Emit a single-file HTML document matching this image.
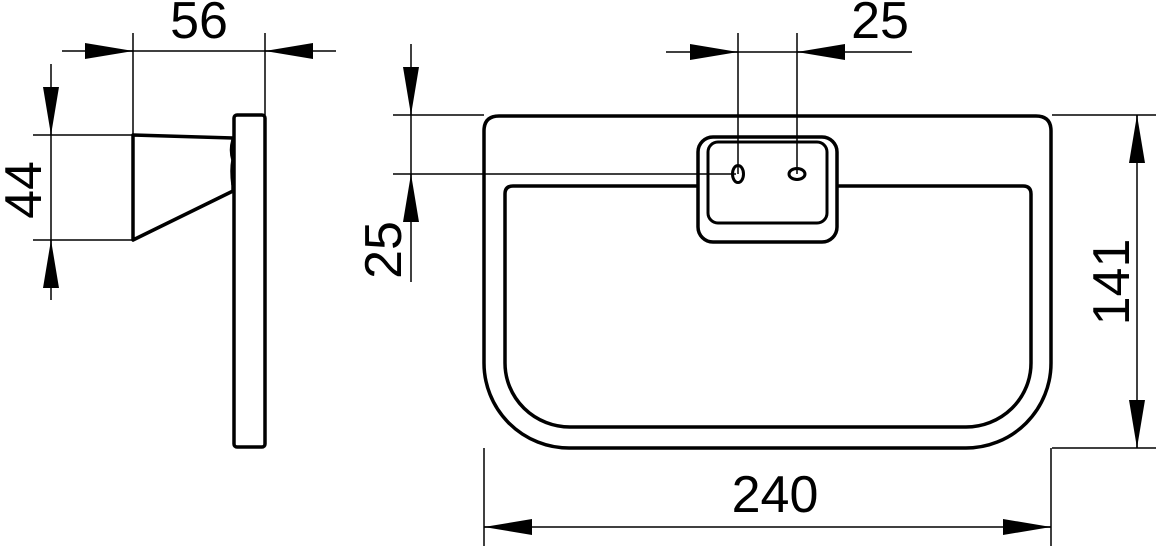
<!DOCTYPE html>
<html><head><style>
html,body{margin:0;padding:0;background:#fff;}
svg{display:block;}
text{font-family:"Liberation Sans",sans-serif;font-size:52px;fill:#000;}
</style></head><body>
<svg width="1156" height="546" viewBox="0 0 1156 546" xmlns="http://www.w3.org/2000/svg">
<defs>
<marker id="a" viewBox="0 0 48 16" refX="48" refY="8" markerWidth="48" markerHeight="16" markerUnits="userSpaceOnUse" orient="auto"><path d="M0,0 L48,8 L0,16 Z" fill="#000"/></marker>
</defs>
<g stroke="#000" stroke-width="1.5" fill="none">
<!-- 56 -->
<line x1="133" y1="33" x2="133" y2="135"/>
<line x1="265" y1="33" x2="265" y2="115"/>
<line x1="62" y1="51" x2="336" y2="51"/>
<line x1="85" y1="51" x2="133" y2="51" marker-end="url(#a)"/>
<line x1="313" y1="51" x2="265" y2="51" marker-end="url(#a)"/>
<!-- 44 -->
<line x1="33" y1="135" x2="133" y2="135"/>
<line x1="33" y1="240" x2="133" y2="240"/>
<line x1="51" y1="64" x2="51" y2="300"/>
<line x1="51" y1="87" x2="51" y2="135" marker-end="url(#a)"/>
<line x1="51" y1="288" x2="51" y2="240" marker-end="url(#a)"/>
<!-- left 25 -->
<line x1="393" y1="115" x2="484" y2="115"/>
<line x1="393" y1="174" x2="736" y2="174"/>
<line x1="411" y1="44" x2="411" y2="282"/>
<line x1="411" y1="67" x2="411" y2="115" marker-end="url(#a)"/>
<line x1="411" y1="222" x2="411" y2="174" marker-end="url(#a)"/>
<!-- top 25 -->
<line x1="738" y1="33" x2="738" y2="174"/>
<line x1="797" y1="33" x2="797" y2="174"/>
<line x1="666" y1="52" x2="912" y2="52"/>
<line x1="690" y1="52" x2="738" y2="52" marker-end="url(#a)"/>
<line x1="845" y1="52" x2="797" y2="52" marker-end="url(#a)"/>
<!-- 141 -->
<line x1="1052" y1="115" x2="1156" y2="115"/>
<line x1="1052" y1="448" x2="1156" y2="448"/>
<line x1="1137" y1="115" x2="1137" y2="448"/>
<line x1="1137" y1="163" x2="1137" y2="115" marker-end="url(#a)"/>
<line x1="1137" y1="400" x2="1137" y2="448" marker-end="url(#a)"/>
<!-- 240 -->
<line x1="484" y1="448" x2="484" y2="546"/>
<line x1="1051" y1="448" x2="1051" y2="546"/>
<line x1="484" y1="527" x2="1051" y2="527"/>
<line x1="532" y1="527" x2="484" y2="527" marker-end="url(#a)"/>
<line x1="1003" y1="527" x2="1051" y2="527" marker-end="url(#a)"/>
</g>
<g stroke="#000" stroke-width="3.5" fill="none" stroke-linejoin="round">
<!-- side view -->
<path d="M133,135 L233,138 L233,191 L133,240 Z"/>
<path d="M233,140 q-3,10 0,20 q-2,10 0,25"/>
<rect x="234" y="115" width="31" height="332" rx="3"/>
<!-- front outer -->
<path d="M484,131 Q484,116 499,116 L1036,116 Q1051,116 1051,131 L1051,363 A85,85 0 0 1 966,448 L569,448 A85,85 0 0 1 484,363 Z"/>
<!-- inner -->
<path d="M698,186 L513,186 Q505,186 505,194 L505,363 A65,64 0 0 0 570,427 L966,427 A65,64 0 0 0 1031,363 L1031,194 Q1031,186 1023,186 L837,186"/>
<!-- mount -->
<rect x="698" y="137" width="139" height="105" rx="15"/>
<rect x="708" y="142" width="119" height="81" rx="10" stroke-width="3"/>
<ellipse cx="738" cy="174" rx="5.5" ry="8.5" stroke-width="3"/>
<ellipse cx="797" cy="174" rx="8" ry="5.5" stroke-width="3"/>
</g>
<text x="199" y="38" text-anchor="middle">56</text>
<text x="880" y="38" text-anchor="middle">25</text>
<text x="775" y="512" text-anchor="middle">240</text>
<text transform="translate(41,190) rotate(-90)" text-anchor="middle">44</text>
<text transform="translate(401,250) rotate(-90)" text-anchor="middle">25</text>
<text transform="translate(1129,282) rotate(-90)" text-anchor="middle">141</text>
</svg>
</body></html>
